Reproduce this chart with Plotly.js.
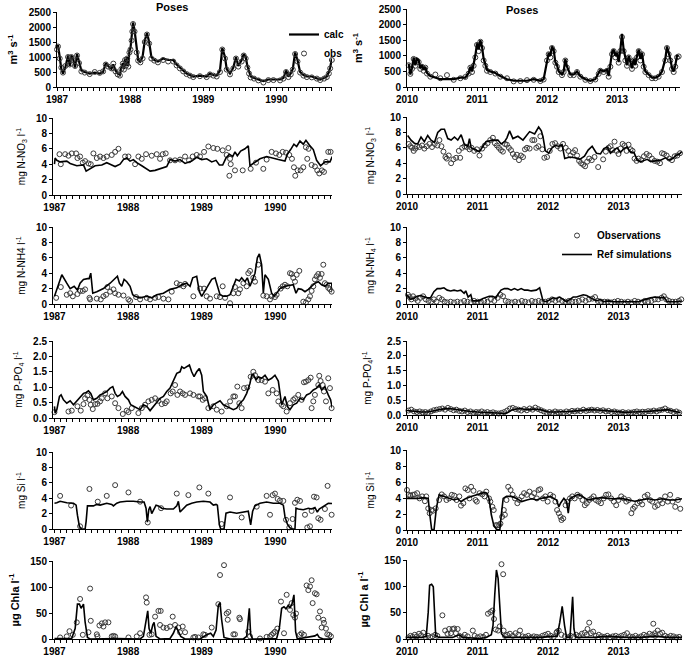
<!DOCTYPE html>
<html><head><meta charset="utf-8">
<script src="https://cdn.plot.ly/plotly-3.0.1.min.js"></script>
<style>html,body{margin:0;padding:0;background:#fff}#chart{width:685px;height:660px}</style>
</head><body><div id="chart"></div>
<script>
// ---------------- DATA (decimal years) ----------------
// Discharge at Poses, 1987-1990 (m3 s-1)
const flowX_L = [1987.00,1987.014,1987.037,1987.059,1987.082,1987.114,1987.151,1987.174,1987.196,1987.219,1987.247,1987.274,1987.301,1987.333,1987.379,1987.447,1987.516,1987.584,1987.630,1987.667,1987.699,
  1987.744,1987.77,1987.80,1987.83,1987.86,1987.88,1987.90,1987.915,1987.93,1987.945,1987.96,1987.975,1987.99,1988.005,1988.02,1988.03,1988.04,1988.06,1988.09,1988.11,1988.14,1988.17,1988.20,1988.23,1988.26,1988.29,1988.33,1988.38,1988.45,1988.52,
  1988.589,1988.635,1988.680,1988.726,1988.772,1988.817,1988.863,1988.954,1989.046,1989.091,1989.137,1989.183,1989.228,1989.260,1989.297,1989.320,1989.365,1989.411,1989.447,1989.479,1989.525,1989.553,1989.580,1989.603,1989.626,1989.648,1989.694,1989.753,1989.822,1989.890,1989.959,1990.050,1990.096,1990.132,1990.164,1990.196,1990.224,1990.256,1990.288,1990.324,1990.370,1990.416,1990.484,1990.553,1990.598,1990.653,1990.689,1990.717,1990.735,1990.758];
const flowCalc_L = [1300,1400,1000,600,450,650,1050,700,1050,950,650,1100,850,550,500,450,480,450,500,800,700,
  600,750,550,450,400,650,800,600,950,700,1000,700,1200,1300,1600,1900,2150,1900,1200,900,850,1000,1550,1800,1500,1000,900,850,950,900,
  900,750,650,550,450,400,350,380,350,450,400,380,550,1300,1000,600,450,650,1000,700,900,1100,1000,700,500,350,300,250,200,250,250,250,300,550,350,450,600,1150,900,500,400,350,350,300,250,300,350,500,650,950];
const flowObs_L = [1250,1350,950,650,480,700,1000,750,1000,900,700,1050,800,520,480,430,500,470,520,750,680,
  620,780,520,420,380,600,780,580,900,720,950,680,1150,1250,1550,1850,2100,1850,1150,880,820,950,1500,1750,1450,950,880,820,900,850,
  850,720,620,520,430,380,330,360,330,420,380,350,500,1250,950,580,420,620,950,680,850,1050,950,650,450,320,280,220,150,230,230,220,280,500,330,420,580,1100,850,480,380,330,320,280,230,280,330,450,620,900];
// Discharge at Poses, 2010-2013
const flowX_R = [2010.024,2010.048,2010.071,2010.095,2010.119,2010.143,2010.167,2010.190,2010.214,2010.238,2010.262,2010.286,2010.333,2010.405,2010.476,2010.571,2010.667,2010.762,2010.833,2010.881,2010.905,2010.929,2010.952,2010.976,2011.000,2011.024,2011.048,2011.071,2011.095,2011.119,2011.143,2011.190,2011.262,2011.333,2011.429,2011.524,2011.619,2011.714,2011.810,2011.905,2011.952,2012.000,2012.024,2012.048,2012.071,2012.095,2012.119,2012.143,2012.167,2012.214,2012.238,2012.262,2012.286,2012.333,2012.381,2012.429,2012.476,2012.548,2012.619,2012.690,2012.738,2012.762,2012.810,2012.857,2012.881,2012.905,2012.929,2012.952,2012.976,2013.000,2013.024,2013.048,2013.071,2013.095,2013.119,2013.143,2013.167,2013.190,2013.214,2013.238,2013.262,2013.286,2013.310,2013.333,2013.357,2013.381,2013.405,2013.452,2013.500,2013.548,2013.595,2013.643,2013.690,2013.714,2013.738,2013.762,2013.786,2013.810,2013.833,2013.857,2013.881];
const flowCalc_R = [750,400,600,950,700,900,850,600,700,550,650,450,350,300,250,250,250,300,300,450,650,500,700,1000,1400,1200,1500,1300,900,700,550,500,450,350,250,200,200,200,250,200,250,900,1100,1000,1300,1200,800,700,500,400,500,900,650,400,400,500,350,250,200,250,450,550,500,550,350,700,1100,1200,1000,1100,800,1200,1700,1200,900,700,1000,800,600,900,700,1000,1200,900,1100,700,500,400,300,300,350,500,900,1300,1100,900,600,500,700,1000,1000];
const flowObs_R = [700,420,580,900,680,850,800,580,650,520,620,430,330,400,280,380,230,280,320,430,620,480,680,950,1350,1150,1450,1250,850,680,520,480,430,330,280,180,190,220,230,190,240,850,1050,950,1250,1150,780,650,480,380,480,850,620,380,380,480,330,230,190,240,420,520,480,520,330,650,1050,1150,950,1050,780,1150,1600,1150,850,680,950,750,580,850,680,950,1150,850,1050,650,480,380,280,280,330,480,850,1250,1050,850,580,480,650,950,980];

// Nitrate (mg N-NO3 l-1): [year, value]
const no3Calc_L = [[1987.00,4.0],[1987.009,4.8],[1987.032,4.5],[1987.077,4.3],[1987.167,4.4],[1987.213,4.1],[1987.303,3.8],[1987.394,3.9],[1987.430,3.1],[1987.484,3.4],[1987.552,3.8],[1987.643,3.9],[1987.710,4.2],[1987.778,3.9],[1987.824,3.7],[1987.891,4.0],[1987.937,4.6],[1987.982,4.8],[1988.027,4.4],[1988.072,4.6],[1988.118,4.2],[1988.186,3.8],[1988.299,3.1],[1988.367,3.2],[1988.457,3.5],[1988.525,3.7],[1988.570,4.6],[1988.638,4.4],[1988.706,4.6],[1988.774,4.1],[1988.864,4.4],[1988.932,4.9],[1989.000,4.6],[1989.068,4.7],[1989.136,4.3],[1989.195,4.5],[1989.240,3.9],[1989.285,3.9],[1989.330,4.8],[1989.376,5.3],[1989.421,5.0],[1989.452,5.6],[1989.484,5.1],[1989.529,5.7],[1989.588,6.0],[1989.633,6.4],[1989.656,3.8],[1989.724,4.3],[1989.792,4.7],[1989.882,5.0],[1989.950,4.8],[1990.041,4.6],[1990.131,4.4],[1990.163,5.3],[1990.208,5.9],[1990.253,6.6],[1990.290,6.3],[1990.335,7.0],[1990.380,6.6],[1990.416,7.1],[1990.462,6.5],[1990.516,5.9],[1990.561,4.5],[1990.615,3.8],[1990.674,4.3],[1990.742,4.3],[1990.774,5.0]];
const no3Obs_L = [[1987.068,5.3],[1987.086,4.0],[1987.145,5.3],[1987.190,5.1],[1987.235,5.4],[1987.294,5.4],[1987.312,4.8],[1987.348,5.0],[1987.385,4.2],[1987.416,4.4],[1987.462,4.1],[1987.493,4.0],[1987.529,5.4],[1987.575,4.8],[1987.620,5.0],[1987.665,4.8],[1987.710,5.0],[1987.778,5.2],[1987.824,5.6],[1987.869,6.0],[1987.959,5.0],[1988.005,5.0],[1988.095,4.0],[1988.140,5.0],[1988.186,4.7],[1988.244,5.3],[1988.321,5.1],[1988.389,5.3],[1988.434,4.7],[1988.471,5.3],[1988.511,5.4],[1988.570,4.5],[1988.638,4.5],[1988.706,4.6],[1988.774,5.0],[1988.828,4.5],[1988.878,5.0],[1988.932,5.2],[1988.977,5.0],[1989.032,5.6],[1989.090,6.3],[1989.158,6.1],[1989.213,6.0],[1989.285,5.8],[1989.339,5.2],[1989.362,6.1],[1989.376,2.5],[1989.385,4.7],[1989.394,4.0],[1989.452,3.2],[1989.557,3.2],[1989.665,3.4],[1989.738,4.2],[1989.837,3.4],[1989.882,4.6],[1989.950,5.6],[1990.009,5.4],[1990.054,5.2],[1990.100,5.6],[1990.145,5.5],[1990.190,5.2],[1990.226,4.7],[1990.253,3.6],[1990.271,2.5],[1990.303,3.2],[1990.344,3.2],[1990.380,3.6],[1990.416,6.2],[1990.434,4.7],[1990.452,6.0],[1990.493,3.9],[1990.538,3.7],[1990.570,3.2],[1990.597,2.8],[1990.633,3.2],[1990.661,3.0],[1990.688,4.3],[1990.719,5.6],[1990.751,5.6]];
const no3Calc_R = [[2010.009,7.6],[2010.057,7.0],[2010.104,6.6],[2010.152,6.5],[2010.199,7.4],[2010.246,6.8],[2010.294,7.6],[2010.341,7.0],[2010.389,6.7],[2010.436,8.0],[2010.483,8.4],[2010.531,8.4],[2010.578,7.2],[2010.626,7.0],[2010.673,7.4],[2010.720,7.0],[2010.768,7.7],[2010.815,6.4],[2010.863,6.2],[2010.886,7.2],[2010.910,6.0],[2010.957,5.8],[2011.028,5.5],[2011.076,6.2],[2011.123,6.8],[2011.218,7.0],[2011.289,7.0],[2011.336,6.5],[2011.384,6.8],[2011.417,7.3],[2011.455,8.2],[2011.502,7.2],[2011.573,7.5],[2011.645,7.0],[2011.692,7.6],[2011.739,8.1],[2011.810,7.8],[2011.867,8.7],[2011.905,8.2],[2011.929,7.4],[2011.962,5.6],[2012.009,5.3],[2012.057,6.0],[2012.104,6.3],[2012.152,6.2],[2012.199,6.4],[2012.237,4.6],[2012.308,4.8],[2012.379,4.7],[2012.450,4.5],[2012.517,4.9],[2012.569,5.7],[2012.626,6.2],[2012.687,5.3],[2012.744,5.2],[2012.791,5.9],[2012.839,6.1],[2012.886,5.3],[2012.934,5.7],[2012.981,6.0],[2013.028,5.4],[2013.076,5.9],[2013.123,6.1],[2013.171,5.4],[2013.218,5.4],[2013.265,4.4],[2013.313,4.2],[2013.360,4.3],[2013.408,4.5],[2013.455,4.2],[2013.531,4.3],[2013.597,4.4],[2013.664,4.7],[2013.720,4.4],[2013.768,4.6],[2013.815,5.0],[2013.863,5.2],[2013.896,5.5]];
const no3Obs_R = [[2010.024,6.5],[2010.047,6.2],[2010.071,6.0],[2010.095,5.6],[2010.118,5.9],[2010.142,6.2],[2010.175,6.1],[2010.213,6.3],[2010.246,5.9],[2010.280,6.2],[2010.318,6.5],[2010.355,6.1],[2010.393,6.5],[2010.431,6.3],[2010.460,7.0],[2010.488,6.2],[2010.517,5.5],[2010.545,4.8],[2010.564,4.6],[2010.592,5.0],[2010.626,4.0],[2010.659,4.5],[2010.697,4.7],[2010.735,5.6],[2010.754,4.7],[2010.782,6.0],[2010.815,6.2],[2010.848,6.1],[2010.886,5.8],[2010.915,6.0],[2010.953,5.6],[2010.991,5.8],[2011.028,5.0],[2011.066,5.9],[2011.104,6.3],[2011.142,6.6],[2011.180,7.0],[2011.218,7.3],[2011.246,6.6],[2011.275,6.3],[2011.303,6.0],[2011.332,5.7],[2011.360,5.5],[2011.389,6.5],[2011.417,6.4],[2011.445,6.0],[2011.474,5.7],[2011.502,5.2],[2011.531,4.8],[2011.559,5.1],[2011.588,4.4],[2011.616,5.0],[2011.645,4.8],[2011.673,5.8],[2011.701,6.0],[2011.739,5.9],[2011.777,7.0],[2011.806,7.0],[2011.834,6.0],[2011.863,6.2],[2011.891,7.5],[2011.919,5.8],[2011.948,4.7],[2011.986,4.8],[2012.024,5.6],[2012.062,6.5],[2012.100,6.6],[2012.137,6.2],[2012.175,5.9],[2012.213,6.5],[2012.251,6.0],[2012.289,5.6],[2012.318,5.0],[2012.355,5.4],[2012.384,5.7],[2012.412,5.0],[2012.441,4.3],[2012.469,4.0],[2012.498,3.8],[2012.526,3.6],[2012.555,4.2],[2012.583,4.6],[2012.621,4.4],[2012.659,4.8],[2012.711,3.5],[2012.782,4.5],[2012.820,5.5],[2012.858,6.0],[2012.886,6.2],[2012.915,5.7],[2012.943,6.8],[2012.972,5.6],[2013.000,5.2],[2013.028,5.9],[2013.057,6.5],[2013.085,6.3],[2013.114,5.6],[2013.142,6.4],[2013.171,5.8],[2013.199,5.6],[2013.227,4.6],[2013.256,4.3],[2013.284,4.6],[2013.322,4.4],[2013.360,4.9],[2013.398,5.2],[2013.436,5.0],[2013.474,4.6],[2013.512,4.3],[2013.550,4.2],[2013.588,4.0],[2013.616,5.3],[2013.645,5.2],[2013.682,5.0],[2013.720,4.6],[2013.758,4.4],[2013.796,4.9],[2013.834,5.0],[2013.872,5.3]];

// Ammonium (mg N-NH4 l-1)
const nh4Calc_L = [[1987.000,1.0],[1987.100,3.8],[1987.167,2.7],[1987.213,2.0],[1987.267,2.3],[1987.312,1.8],[1987.348,2.7],[1987.394,3.2],[1987.448,3.3],[1987.471,3.3],[1987.493,4.0],[1987.520,1.4],[1987.575,1.6],[1987.665,2.0],[1987.756,2.7],[1987.824,3.4],[1987.855,3.6],[1987.882,2.7],[1987.914,2.3],[1987.946,3.2],[1987.982,2.9],[1988.027,2.3],[1988.063,1.2],[1988.095,1.0],[1988.163,0.8],[1988.253,1.0],[1988.321,0.8],[1988.389,1.2],[1988.480,1.4],[1988.570,1.9],[1988.661,2.1],[1988.729,2.5],[1988.796,2.7],[1988.842,2.3],[1988.878,3.4],[1988.932,3.6],[1988.968,1.6],[1989.000,1.0],[1989.068,2.1],[1989.136,3.2],[1989.181,3.4],[1989.213,2.3],[1989.249,1.2],[1989.294,1.0],[1989.339,1.0],[1989.385,1.2],[1989.430,2.3],[1989.466,3.2],[1989.511,3.0],[1989.543,3.4],[1989.588,2.9],[1989.620,3.4],[1989.656,2.3],[1989.679,2.9],[1989.724,4.0],[1989.756,6.0],[1989.783,6.5],[1989.814,5.1],[1989.837,1.4],[1989.860,3.8],[1989.905,3.2],[1989.950,1.4],[1989.982,1.0],[1990.018,1.4],[1990.063,2.0],[1990.131,2.3],[1990.199,2.4],[1990.244,2.5],[1990.281,1.4],[1990.312,2.0],[1990.357,1.9],[1990.403,1.6],[1990.448,1.9],[1990.493,2.3],[1990.538,2.7],[1990.584,2.9],[1990.629,2.5],[1990.674,2.3],[1990.719,2.7],[1990.765,2.7],[1990.778,1.4]];
const nh4Obs_L = [[1987.023,0.8],[1987.086,2.2],[1987.167,1.2],[1987.213,1.4],[1987.249,1.0],[1987.312,1.3],[1987.348,1.7],[1987.385,1.7],[1987.416,1.9],[1987.475,0.8],[1987.484,0.6],[1987.575,0.7],[1987.629,0.6],[1987.665,1.0],[1987.701,1.2],[1987.719,2.2],[1987.756,1.6],[1987.801,1.9],[1987.824,1.4],[1987.869,1.2],[1987.937,1.1],[1988.005,0.6],[1988.027,0.4],[1988.109,0.9],[1988.163,0.6],[1988.253,0.8],[1988.299,0.6],[1988.367,0.8],[1988.412,0.9],[1988.480,0.7],[1988.548,0.6],[1988.593,1.6],[1988.661,2.7],[1988.706,2.5],[1988.751,2.3],[1988.774,2.6],[1988.887,1.0],[1988.977,2.0],[1989.032,2.0],[1989.068,1.0],[1989.113,0.7],[1989.204,1.0],[1989.249,0.9],[1989.285,2.3],[1989.317,0.8],[1989.385,0.1],[1989.430,1.4],[1989.452,2.2],[1989.498,1.4],[1989.520,1.9],[1989.566,2.7],[1989.611,2.3],[1989.633,4.0],[1989.656,4.3],[1989.701,3.4],[1989.724,2.9],[1989.769,5.1],[1989.837,1.1],[1989.882,1.0],[1989.928,0.6],[1989.950,1.0],[1989.995,0.9],[1990.018,1.2],[1990.072,2.0],[1990.100,2.3],[1990.131,2.5],[1990.163,2.3],[1990.199,4.0],[1990.222,3.9],[1990.244,3.4],[1990.267,2.9],[1990.290,3.8],[1990.326,4.3],[1990.380,0.3],[1990.416,0.2],[1990.448,0.6],[1990.471,1.0],[1990.493,1.7],[1990.516,2.3],[1990.538,3.2],[1990.561,3.6],[1990.584,3.9],[1990.606,3.4],[1990.629,3.9],[1990.652,5.1],[1990.674,2.7],[1990.697,2.5],[1990.719,2.1],[1990.742,1.9],[1990.765,1.6]];
const nh4Calc_R = [[2010.000,1.2],[2010.048,0.6],[2010.095,0.7],[2010.143,1.0],[2010.190,1.1],[2010.238,0.9],[2010.286,0.8],[2010.333,0.8],[2010.381,1.6],[2010.429,2.0],[2010.476,2.0],[2010.524,2.1],[2010.571,1.8],[2010.619,1.7],[2010.667,1.8],[2010.714,1.7],[2010.762,1.8],[2010.810,1.4],[2010.833,1.7],[2010.867,0.9],[2010.905,1.2],[2010.929,0.4],[2010.976,0.4],[2011.024,0.4],[2011.071,0.7],[2011.119,0.9],[2011.167,1.0],[2011.214,1.0],[2011.262,0.8],[2011.286,1.2],[2011.333,1.8],[2011.381,2.0],[2011.429,2.0],[2011.476,1.8],[2011.524,2.0],[2011.571,1.8],[2011.619,2.0],[2011.667,1.8],[2011.714,1.8],[2011.762,1.7],[2011.833,1.8],[2011.881,2.1],[2011.905,1.0],[2011.929,0.4],[2011.976,0.3],[2012.024,0.6],[2012.071,0.8],[2012.119,0.7],[2012.167,0.9],[2012.214,0.6],[2012.262,0.3],[2012.310,0.6],[2012.357,0.9],[2012.405,0.9],[2012.452,1.1],[2012.500,1.2],[2012.548,1.1],[2012.595,0.8],[2012.643,0.6],[2012.690,0.4],[2012.738,0.6],[2012.786,0.3],[2012.857,0.4],[2012.929,0.3],[2013.000,0.3],[2013.095,0.3],[2013.190,0.3],[2013.286,0.3],[2013.381,0.6],[2013.452,0.8],[2013.524,0.9],[2013.595,0.8],[2013.640,0.9],[2013.690,0.3],[2013.762,0.3],[2013.833,0.3],[2013.895,0.4]];
const nh4Obs_R = [[2010.014,1.2],[2010.038,0.9],[2010.062,0.6],[2010.086,1.0],[2010.119,0.7],[2010.152,0.4],[2010.190,0.8],[2010.229,1.0],[2010.267,0.6],[2010.305,0.4],[2010.343,0.3],[2010.381,0.6],[2010.419,0.3],[2010.457,0.8],[2010.495,0.6],[2010.533,0.3],[2010.571,0.2],[2010.619,0.3],[2010.667,0.2],[2010.714,0.3],[2010.762,0.2],[2010.810,0.4],[2010.857,0.3],[2010.905,0.2],[2010.952,0.4],[2011.000,0.3],[2011.048,0.3],[2011.095,0.4],[2011.143,0.3],[2011.190,0.6],[2011.238,0.4],[2011.286,0.8],[2011.324,1.2],[2011.362,1.0],[2011.400,0.4],[2011.438,0.3],[2011.486,0.2],[2011.533,0.3],[2011.581,0.2],[2011.629,0.4],[2011.676,0.3],[2011.724,0.2],[2011.771,0.4],[2011.819,0.3],[2011.867,0.4],[2011.914,0.3],[2011.962,0.3],[2012.010,0.4],[2012.057,0.6],[2012.105,0.4],[2012.152,0.6],[2012.200,0.4],[2012.248,0.3],[2012.295,0.4],[2012.343,0.3],[2012.390,0.3],[2012.438,0.4],[2012.486,0.6],[2012.533,0.4],[2012.581,0.6],[2012.629,0.7],[2012.667,0.9],[2012.705,0.4],[2012.752,0.3],[2012.800,0.3],[2012.848,0.3],[2012.895,0.2],[2012.943,0.3],[2012.990,0.4],[2013.038,0.3],[2013.086,0.2],[2013.133,0.3],[2013.181,0.2],[2013.229,0.4],[2013.276,0.3],[2013.324,0.2],[2013.371,0.4],[2013.419,0.3],[2013.467,0.4],[2013.514,0.6],[2013.562,0.6],[2013.610,0.8],[2013.643,1.0],[2013.676,0.6],[2013.714,0.4],[2013.762,0.3],[2013.810,0.3],[2013.857,0.4],[2013.890,0.6]];

// Phosphate (mg P-PO4 l-1)
const po4Calc_L = [[1987.000,0.38],[1987.009,0.16],[1987.032,0.27],[1987.068,0.70],[1987.090,0.75],[1987.122,0.59],[1987.167,0.48],[1987.213,0.56],[1987.258,0.43],[1987.303,0.56],[1987.348,0.70],[1987.394,0.80],[1987.430,0.83],[1987.462,0.88],[1987.493,0.80],[1987.529,0.59],[1987.575,0.64],[1987.620,0.75],[1987.665,0.80],[1987.710,0.86],[1987.756,0.97],[1987.792,1.02],[1987.824,0.80],[1987.855,0.70],[1987.891,0.75],[1987.923,0.86],[1987.959,0.70],[1988.005,0.59],[1988.036,0.43],[1988.072,0.38],[1988.118,0.32],[1988.163,0.27],[1988.208,0.43],[1988.253,0.38],[1988.299,0.24],[1988.344,0.38],[1988.389,0.48],[1988.434,0.64],[1988.480,0.70],[1988.525,0.86],[1988.570,0.97],[1988.615,1.23],[1988.661,1.45],[1988.706,1.50],[1988.729,1.66],[1988.760,1.61],[1988.796,1.66],[1988.833,1.72],[1988.864,1.50],[1988.896,1.34],[1988.932,1.50],[1988.968,1.61],[1989.000,1.39],[1989.023,0.86],[1989.068,0.70],[1989.113,0.27],[1989.158,0.43],[1989.204,0.51],[1989.249,0.56],[1989.294,0.43],[1989.339,0.38],[1989.385,0.32],[1989.430,0.27],[1989.475,0.32],[1989.520,0.48],[1989.566,0.59],[1989.611,0.80],[1989.656,1.13],[1989.679,1.39],[1989.701,1.42],[1989.738,1.23],[1989.769,1.34],[1989.814,1.29],[1989.860,1.39],[1989.905,1.23],[1989.950,1.29],[1989.995,1.39],[1990.041,1.20],[1990.063,0.86],[1990.086,0.43],[1990.131,0.70],[1990.163,0.38],[1990.199,0.27],[1990.244,0.43],[1990.290,0.48],[1990.335,0.64],[1990.380,0.59],[1990.425,0.75],[1990.471,0.80],[1990.516,0.91],[1990.561,0.97],[1990.597,1.07],[1990.629,0.91],[1990.674,1.02],[1990.719,0.75],[1990.751,0.59],[1990.774,0.32]];
const po4Obs_L = [[1987.000,0.19],[1987.190,0.21],[1987.235,0.24],[1987.312,0.38],[1987.357,0.24],[1987.394,0.45],[1987.416,0.64],[1987.448,0.73],[1987.475,0.59],[1987.493,0.43],[1987.520,0.29],[1987.552,0.45],[1987.584,0.46],[1987.620,0.54],[1987.643,0.64],[1987.688,0.80],[1987.719,0.64],[1987.778,0.70],[1987.824,0.48],[1987.869,0.32],[1987.928,0.13],[1987.982,0.24],[1988.005,0.19],[1988.050,0.32],[1988.140,0.16],[1988.186,0.32],[1988.231,0.43],[1988.276,0.54],[1988.321,0.59],[1988.367,0.64],[1988.412,0.56],[1988.457,0.45],[1988.502,0.48],[1988.525,0.54],[1988.579,0.80],[1988.606,0.86],[1988.638,1.07],[1988.670,0.75],[1988.706,0.86],[1988.742,0.80],[1988.774,0.75],[1988.842,0.80],[1988.887,0.75],[1988.955,0.70],[1988.977,0.70],[1989.014,0.59],[1989.045,0.64],[1989.090,0.32],[1989.158,0.38],[1989.204,0.27],[1989.271,0.21],[1989.339,0.38],[1989.385,0.54],[1989.430,0.70],[1989.452,0.70],[1989.484,1.02],[1989.511,0.48],[1989.543,0.32],[1989.575,0.97],[1989.620,0.99],[1989.665,1.34],[1989.701,1.50],[1989.724,1.39],[1989.769,1.23],[1989.814,1.23],[1989.860,1.18],[1989.905,0.80],[1989.964,0.91],[1990.018,0.80],[1990.041,0.54],[1990.086,0.43],[1990.109,0.38],[1990.154,0.21],[1990.199,0.48],[1990.244,0.59],[1990.267,0.64],[1990.312,0.75],[1990.357,0.59],[1990.389,1.16],[1990.416,1.18],[1990.448,1.23],[1990.480,1.31],[1990.493,0.32],[1990.516,0.54],[1990.538,0.75],[1990.584,1.07],[1990.597,1.37],[1990.615,1.20],[1990.643,1.07],[1990.661,0.86],[1990.688,0.54],[1990.719,1.29],[1990.742,0.97],[1990.765,0.32]];
const po4Calc_R = [[2010.0,0.15],[2010.1,0.12],[2010.2,0.10],[2010.3,0.10],[2010.4,0.15],[2010.5,0.20],[2010.6,0.22],[2010.7,0.18],[2010.8,0.15],[2010.9,0.12],[2011.0,0.10],[2011.1,0.09],[2011.2,0.08],[2011.3,0.06],[2011.4,0.05],[2011.5,0.18],[2011.6,0.22],[2011.7,0.18],[2011.8,0.20],[2011.9,0.18],[2012.0,0.10],[2012.1,0.10],[2012.2,0.10],[2012.3,0.12],[2012.4,0.14],[2012.5,0.16],[2012.6,0.18],[2012.7,0.17],[2012.8,0.15],[2012.9,0.12],[2013.0,0.10],[2013.1,0.09],[2013.2,0.10],[2013.3,0.10],[2013.4,0.12],[2013.5,0.14],[2013.6,0.16],[2013.7,0.18],[2013.8,0.12],[2013.88,0.08]];
const po4Obs_R = [[2010.02,0.15],[2010.06,0.18],[2010.10,0.12],[2010.14,0.10],[2010.18,0.12],[2010.22,0.09],[2010.26,0.10],[2010.30,0.08],[2010.34,0.12],[2010.38,0.16],[2010.42,0.18],[2010.46,0.20],[2010.50,0.22],[2010.54,0.18],[2010.58,0.24],[2010.62,0.20],[2010.66,0.16],[2010.70,0.18],[2010.74,0.14],[2010.78,0.12],[2010.82,0.15],[2010.86,0.10],[2010.90,0.12],[2010.94,0.08],[2010.98,0.10],[2011.02,0.09],[2011.06,0.12],[2011.10,0.08],[2011.14,0.10],[2011.18,0.07],[2011.22,0.09],[2011.26,0.06],[2011.30,0.05],[2011.34,0.07],[2011.38,0.10],[2011.42,0.15],[2011.46,0.22],[2011.50,0.24],[2011.54,0.20],[2011.58,0.18],[2011.62,0.15],[2011.66,0.20],[2011.70,0.16],[2011.74,0.22],[2011.78,0.18],[2011.82,0.25],[2011.86,0.20],[2011.90,0.16],[2011.94,0.12],[2011.98,0.08],[2012.02,0.10],[2012.06,0.08],[2012.10,0.12],[2012.14,0.09],[2012.18,0.10],[2012.22,0.08],[2012.26,0.12],[2012.30,0.10],[2012.34,0.14],[2012.38,0.12],[2012.42,0.15],[2012.46,0.13],[2012.50,0.18],[2012.54,0.14],[2012.58,0.16],[2012.62,0.18],[2012.66,0.15],[2012.70,0.17],[2012.74,0.14],[2012.78,0.16],[2012.82,0.12],[2012.86,0.14],[2012.90,0.10],[2012.94,0.12],[2012.98,0.09],[2013.02,0.08],[2013.06,0.10],[2013.10,0.07],[2013.14,0.09],[2013.18,0.08],[2013.22,0.10],[2013.26,0.12],[2013.30,0.09],[2013.34,0.11],[2013.38,0.10],[2013.42,0.13],[2013.46,0.12],[2013.50,0.15],[2013.54,0.12],[2013.58,0.16],[2013.62,0.18],[2013.66,0.22],[2013.70,0.16],[2013.74,0.14],[2013.78,0.10],[2013.82,0.12],[2013.86,0.08]];

// Silica (mg Si l-1)
const siCalc_L = [[1987.000,3.35],[1987.032,3.4],[1987.077,3.6],[1987.167,3.4],[1987.258,3.35],[1987.294,3.1],[1987.312,1.8],[1987.339,0.3],[1987.371,0],[1987.416,0],[1987.430,1.0],[1987.448,3.0],[1987.529,3.0],[1987.575,3.2],[1987.620,3.1],[1987.710,3.35],[1987.778,3.2],[1987.801,3.0],[1987.846,3.35],[1987.891,3.5],[1987.982,3.6],[1988.072,3.6],[1988.163,3.5],[1988.217,3.5],[1988.244,2.7],[1988.262,0.9],[1988.281,2.5],[1988.299,2.9],[1988.321,2.0],[1988.353,2.5],[1988.380,3.1],[1988.412,3.0],[1988.457,2.7],[1988.525,2.6],[1988.615,2.6],[1988.661,3.0],[1988.683,3.6],[1988.706,2.2],[1988.751,2.7],[1988.796,3.1],[1988.864,3.35],[1988.932,3.5],[1989.023,3.6],[1989.113,3.5],[1989.158,3.1],[1989.195,3.2],[1989.213,3.1],[1989.240,0.55],[1989.258,0],[1989.303,0],[1989.330,2.05],[1989.385,2.2],[1989.475,2.05],[1989.566,2.2],[1989.633,2.3],[1989.665,0.55],[1989.692,2.3],[1989.724,3.0],[1989.792,3.35],[1989.882,3.5],[1989.973,3.35],[1990.063,3.35],[1990.109,3.1],[1990.131,1.6],[1990.163,0.65],[1990.199,0.15],[1990.235,0],[1990.267,0],[1990.281,2.7],[1990.312,2.6],[1990.380,2.5],[1990.448,2.7],[1990.493,2.6],[1990.538,2.8],[1990.570,2.2],[1990.597,2.6],[1990.652,2.9],[1990.719,3.35],[1990.774,3.3]];
const siObs_L = [[1987.077,4.3],[1987.226,3.05],[1987.348,0.35],[1987.475,5.2],[1987.588,3.55],[1987.710,4.3],[1987.824,5.7],[1988.005,4.75],[1988.163,3.55],[1988.267,0.85],[1988.448,2.7],[1988.661,4.6],[1988.819,4.4],[1988.968,5.4],[1989.090,4.6],[1989.271,0.65],[1989.385,4.1],[1989.543,1.5],[1989.747,2.9],[1989.882,4.3],[1989.928,1.85],[1989.964,4.4],[1989.995,4.6],[1990.032,3.9],[1990.063,3.7],[1990.109,3.65],[1990.145,1.2],[1990.190,0.2],[1990.235,1.3],[1990.267,3.4],[1990.299,3.8],[1990.335,3.65],[1990.403,1.85],[1990.434,0.2],[1990.471,0.35],[1990.493,2.35],[1990.525,4.2],[1990.561,4.1],[1990.584,1.4],[1990.615,1.2],[1990.674,2.6],[1990.710,5.6],[1990.765,1.85]];
const siCalc_R = [[2010.000,3.95],[2010.072,3.95],[2010.167,3.95],[2010.239,4.05],[2010.301,3.95],[2010.321,2.1],[2010.349,0.1],[2010.383,0],[2010.416,2.7],[2010.455,4.4],[2010.526,4.2],[2010.598,3.95],[2010.670,3.75],[2010.718,3.9],[2010.766,3.55],[2010.799,3.75],[2010.837,3.95],[2010.909,4.2],[2010.981,4.4],[2011.053,4.6],[2011.100,4.7],[2011.134,4.6],[2011.163,3.95],[2011.196,1.9],[2011.230,0.6],[2011.268,0.1],[2011.316,0],[2011.340,2.1],[2011.364,3.95],[2011.411,4.2],[2011.483,4.2],[2011.555,3.95],[2011.627,3.55],[2011.699,3.75],[2011.770,3.9],[2011.842,3.75],[2011.890,3.95],[2011.962,4.05],[2012.033,4.2],[2012.081,3.95],[2012.120,3.75],[2012.153,2.9],[2012.177,3.35],[2012.225,3.95],[2012.263,3.55],[2012.287,2.1],[2012.311,3.9],[2012.368,4.2],[2012.426,4.45],[2012.488,4.2],[2012.560,3.75],[2012.656,3.9],[2012.751,4.05],[2012.847,3.95],[2012.943,3.9],[2013.038,3.95],[2013.134,3.75],[2013.230,3.6],[2013.325,3.75],[2013.420,3.9],[2013.517,3.75],[2013.612,3.9],[2013.708,3.75],[2013.804,3.75],[2013.900,3.9]];
const siObs_R = [[2010.000,5.0],[2010.024,4.4],[2010.048,4.3],[2010.081,4.4],[2010.110,4.45],[2010.144,4.6],[2010.177,3.95],[2010.215,4.2],[2010.254,3.6],[2010.273,4.2],[2010.301,2.7],[2010.321,2.1],[2010.349,2.5],[2010.368,2.4],[2010.407,2.7],[2010.455,3.75],[2010.493,4.45],[2010.526,4.2],[2010.560,3.75],[2010.598,3.95],[2010.636,4.4],[2010.670,4.3],[2010.703,3.75],[2010.742,4.2],[2010.766,3.05],[2010.799,3.35],[2010.828,5.2],[2010.861,5.0],[2010.885,3.95],[2010.909,5.4],[2010.943,4.9],[2010.971,3.75],[2010.990,3.55],[2011.029,4.6],[2011.067,4.45],[2011.100,4.2],[2011.124,4.8],[2011.163,3.95],[2011.182,3.55],[2011.211,2.9],[2011.230,2.5],[2011.258,0.6],[2011.278,0.6],[2011.306,0.6],[2011.325,0.8],[2011.349,1.65],[2011.373,2.5],[2011.388,1.9],[2011.411,3.75],[2011.435,5.4],[2011.469,5.0],[2011.498,4.4],[2011.531,3.95],[2011.565,3.35],[2011.593,3.75],[2011.627,4.2],[2011.660,4.6],[2011.699,4.4],[2011.737,4.8],[2011.770,4.2],[2011.804,4.6],[2011.842,3.95],[2011.866,5.0],[2011.890,5.1],[2011.928,3.95],[2011.962,4.2],[2011.995,3.55],[2012.033,4.4],[2012.072,4.2],[2012.105,3.55],[2012.129,2.5],[2012.153,2.1],[2012.177,1.65],[2012.191,1.25],[2012.215,1.45],[2012.249,3.1],[2012.273,3.55],[2012.311,3.95],[2012.344,4.2],[2012.378,3.95],[2012.416,4.4],[2012.455,4.2],[2012.488,3.75],[2012.522,3.1],[2012.550,3.35],[2012.584,3.75],[2012.617,3.95],[2012.646,4.2],[2012.679,3.75],[2012.713,3.55],[2012.751,3.35],[2012.789,3.95],[2012.823,4.4],[2012.856,4.45],[2012.895,3.95],[2012.933,3.55],[2012.967,3.1],[2013.000,3.75],[2013.038,4.2],[2013.077,3.95],[2013.110,3.55],[2013.144,3.75],[2013.182,2.1],[2013.206,2.65],[2013.230,2.9],[2013.268,3.35],[2013.301,3.55],[2013.335,3.2],[2013.373,4.2],[2013.411,4.4],[2013.445,3.75],[2013.478,3.55],[2013.517,2.9],[2013.555,3.1],[2013.589,3.75],[2013.622,3.35],[2013.660,4.2],[2013.699,3.55],[2013.732,4.4],[2013.766,3.55],[2013.804,2.9],[2013.842,3.75],[2013.876,2.65]];

// Chlorophyll a (µg l-1)
const chlCalc_L = [[1987.000,1],[1987.167,1],[1987.235,1.3],[1987.281,20],[1987.312,67],[1987.339,67],[1987.362,59],[1987.394,67],[1987.416,33],[1987.448,3],[1987.484,0],[1987.846,1],[1987.982,0],[1988.163,0],[1988.208,5],[1988.244,40],[1988.267,54],[1988.285,20],[1988.308,11],[1988.335,27],[1988.353,32],[1988.380,5],[1988.434,0],[1988.570,1],[1988.615,11],[1988.652,24],[1988.683,14],[1988.715,5],[1988.774,0],[1988.977,0],[1989.068,8],[1989.122,11],[1989.158,5],[1989.195,17],[1989.226,65],[1989.249,70],[1989.271,37],[1989.303,3],[1989.385,0],[1989.566,0],[1989.611,5],[1989.647,59],[1989.665,8],[1989.692,0],[1990.018,1],[1990.054,20],[1990.086,59],[1990.118,62],[1990.145,58],[1990.176,65],[1990.199,60],[1990.226,67],[1990.253,85],[1990.276,14],[1990.299,0],[1990.538,6],[1990.570,9],[1990.597,3],[1990.652,0],[1990.774,0]];
const chlObs_L = [[1987.077,3],[1987.167,5],[1987.204,15],[1987.249,8],[1987.303,32],[1987.348,77],[1987.385,8],[1987.462,13],[1987.484,97],[1987.493,35],[1987.575,9],[1987.584,5],[1987.611,26],[1987.643,30],[1987.665,24],[1987.688,32],[1987.733,32],[1987.778,5],[1987.801,6],[1987.824,5],[1988.005,3],[1988.118,5],[1988.163,11],[1988.244,80],[1988.253,70],[1988.290,8],[1988.321,9],[1988.367,43],[1988.412,54],[1988.434,27],[1988.443,54],[1988.480,22],[1988.525,21],[1988.570,24],[1988.606,43],[1988.638,27],[1988.683,22],[1988.706,13],[1988.742,24],[1988.774,13],[1988.887,3],[1988.910,4],[1988.955,3],[1989.023,9],[1989.045,8],[1989.136,22],[1989.226,67],[1989.249,123],[1989.303,142],[1989.339,49],[1989.353,37],[1989.362,52],[1989.430,9],[1989.452,9],[1989.511,41],[1989.520,38],[1989.633,14],[1989.656,5],[1989.792,1],[1989.882,4],[1989.928,5],[1989.950,8],[1989.973,11],[1989.995,14],[1990.027,20],[1990.077,72],[1990.118,11],[1990.154,85],[1990.199,56],[1990.222,69],[1990.244,46],[1990.267,41],[1990.281,49],[1990.335,8],[1990.357,11],[1990.389,8],[1990.425,103],[1990.448,94],[1990.471,101],[1990.493,113],[1990.507,69],[1990.538,88],[1990.561,86],[1990.584,41],[1990.606,53],[1990.629,22],[1990.652,37],[1990.661,31],[1990.688,20],[1990.706,9],[1990.733,8],[1990.756,5]];
const chlCalc_R = [[2010.000,3],[2010.215,3],[2010.273,5],[2010.301,51],[2010.321,102],[2010.349,104],[2010.373,99],[2010.407,6],[2010.455,3],[2010.646,3],[2010.742,8],[2010.789,3],[2011.029,1],[2011.124,3],[2011.196,8],[2011.220,26],[2011.244,83],[2011.268,131],[2011.292,115],[2011.316,64],[2011.340,10],[2011.388,3],[2011.890,3],[2012.081,5],[2012.129,5],[2012.167,32],[2012.201,62],[2012.234,26],[2012.263,3],[2012.311,3],[2012.330,38],[2012.349,80],[2012.368,19],[2012.392,3],[2012.656,3],[2012.847,5],[2013.086,3],[2013.325,3],[2013.517,5],[2013.708,3],[2013.900,3]];
const chlObs_R = [[2010.02,3],[2010.05,6],[2010.08,4],[2010.11,8],[2010.14,5],[2010.17,10],[2010.20,7],[2010.23,12],[2010.26,4],[2010.30,6],[2010.33,3],[2010.36,5],[2010.40,8],[2010.43,6],[2010.502,45],[2010.541,16],[2010.574,10],[2010.598,19],[2010.622,11],[2010.646,19],[2010.670,20],[2010.694,11],[2010.718,19],[2010.742,6],[2010.78,4],[2010.82,8],[2010.86,5],[2010.933,16],[2010.96,6],[2011.00,3],[2011.04,5],[2011.08,4],[2011.12,8],[2011.148,48],[2011.182,51],[2011.211,54],[2011.234,38],[2011.258,18],[2011.292,16],[2011.316,24],[2011.340,142],[2011.364,123],[2011.370,16],[2011.388,6],[2011.42,8],[2011.46,10],[2011.50,6],[2011.54,11],[2011.58,8],[2011.603,16],[2011.64,5],[2011.68,4],[2011.72,6],[2011.76,3],[2011.80,5],[2011.84,4],[2011.88,3],[2011.92,6],[2011.96,8],[2012.00,10],[2012.04,6],[2012.08,4],[2012.12,12],[2012.129,14],[2012.153,16],[2012.19,8],[2012.24,5],[2012.28,3],[2012.32,6],[2012.36,4],[2012.40,8],[2012.44,6],[2012.48,10],[2012.52,12],[2012.55,8],[2012.560,19],[2012.584,31],[2012.608,11],[2012.64,14],[2012.68,6],[2012.72,8],[2012.76,5],[2012.80,4],[2012.84,6],[2012.88,3],[2012.92,5],[2012.96,6],[2013.00,4],[2013.04,6],[2013.08,8],[2013.12,11],[2013.16,5],[2013.20,4],[2013.24,6],[2013.28,3],[2013.32,5],[2013.36,8],[2013.40,6],[2013.44,10],[2013.48,8],[2013.493,29],[2013.517,11],[2013.52,6],[2013.555,16],[2013.589,10],[2013.62,12],[2013.66,6],[2013.70,4],[2013.74,6],[2013.78,5],[2013.82,3],[2013.86,4]];

// ---------------- LAYOUT / STYLE ----------------
const FONT = 'Liberation Sans, Arial, Helvetica, sans-serif';
const W = 685, H = 660;
const px = v => v / W, py = v => 1 - v / H;
const X = p => p.map(d => d[0]), Y = p => p.map(d => d[1]);

const colX = [[53, 332], [407, 682]];
const colRange = [[1986.98, 1990.77], [2010, 2013.9]];
const colStandoff = [8, 13];
const rowsPx = [
  [[12, 87], [118, 195], [227, 304], [341, 418], [452, 529], [561, 639]],
  [[9, 87], [117, 194], [227, 304], [341, 415], [450, 530], [560, 639]]
];

const U = 'l<sup>-1</sup>';
const panels = [
  // left column
  {c:0,r:0, calc:[flowX_L,flowCalc_L], obs:[flowX_L,flowObs_L], yr:[0,2500], dt:500, fmt:'d', t:'m<sup>3</sup> s<sup>-1</sup>', tb:true, lw:2.2, xd:[57,332], xr:[1987,1990.76]},
  {c:0,r:1, calc:[X(no3Calc_L),Y(no3Calc_L)], obs:[X(no3Obs_L),Y(no3Obs_L)], yr:[0,10], dt:2, fmt:'d', t:'mg N-NO<sub>3</sub> '+U},
  {c:0,r:2, calc:[X(nh4Calc_L),Y(nh4Calc_L)], obs:[X(nh4Obs_L),Y(nh4Obs_L)], yr:[0,10], dt:2, fmt:'d', t:'mg N-NH4 '+U},
  {c:0,r:3, calc:[X(po4Calc_L),Y(po4Calc_L)], obs:[X(po4Obs_L),Y(po4Obs_L)], yr:[0,2.5], dt:0.5, fmt:'.1f', t:'mg P-PO<sub>4</sub> '+U},
  {c:0,r:4, calc:[X(siCalc_L),Y(siCalc_L)], obs:[X(siObs_L),Y(siObs_L)], yr:[0,10], dt:2, fmt:'d', t:'mg Si '+U},
  {c:0,r:5, calc:[X(chlCalc_L),Y(chlCalc_L)], obs:[X(chlObs_L),Y(chlObs_L)], yr:[0,150], dt:50, fmt:'d', t:'µg Chla '+U, tb:true},
  // right column
  {c:1,r:0, calc:[flowX_R,flowCalc_R], obs:[flowX_R,flowObs_R], yr:[0,2500], dt:500, fmt:'d', t:'m<sup>3</sup> s<sup>-1</sup>', tb:true, lw:2.2, xd:[407,680]},
  {c:1,r:1, calc:[X(no3Calc_R),Y(no3Calc_R)], obs:[X(no3Obs_R),Y(no3Obs_R)], yr:[0,10], dt:2, fmt:'d', t:'mg N-NO<sub>3</sub> '+U},
  {c:1,r:2, calc:[X(nh4Calc_R),Y(nh4Calc_R)], obs:[X(nh4Obs_R),Y(nh4Obs_R)], yr:[0,10], dt:2, fmt:'d', t:'mg N-NH<sub>4</sub> '+U, leg:true},
  {c:1,r:3, calc:[X(po4Calc_R),Y(po4Calc_R)], obs:[X(po4Obs_R),Y(po4Obs_R)], yr:[0,2.5], dt:0.5, fmt:'.1f', t:'mg P-PO<sub>4</sub>'+U},
  {c:1,r:4, calc:[X(siCalc_R),Y(siCalc_R)], obs:[X(siObs_R),Y(siObs_R)], yr:[0,10], dt:2, fmt:'d', t:'mg Si '+U},
  {c:1,r:5, calc:[X(chlCalc_R),Y(chlCalc_R)], obs:[X(chlObs_R),Y(chlObs_R)], yr:[0,150], dt:50, fmt:'d', t:'µg Chl a '+U, tb:true}
];

const traces = [];
const layout = {
  width: W, height: H, margin: {l:0, r:0, t:0, b:0},
  paper_bgcolor: '#fff', plot_bgcolor: 'rgba(0,0,0,0)',
  font: {family: FONT, color: '#000'},
  showlegend: true,
  legend: {x: px(349), xanchor: 'right', y: py(20), yanchor: 'top', bgcolor: 'rgba(0,0,0,0)',
           font: {family: FONT, size: 10, weight: 'bold', color: '#000'}, itemwidth: 30, tracegroupgap: 0},
  legend2: {x: px(557), xanchor: 'left', y: py(221), yanchor: 'top', bgcolor: 'rgba(0,0,0,0)',
           font: {family: FONT, size: 10, weight: 'bold', color: '#000'}, itemwidth: 30, tracegroupgap: 0},
  annotations: [
    {text: 'Poses', xref: 'paper', yref: 'paper', x: px(172), y: py(7), xanchor: 'center', yanchor: 'middle', showarrow: false,
     font: {family: FONT, size: 11, weight: 'bold', color: '#000'}},
    {text: 'Poses', xref: 'paper', yref: 'paper', x: px(522), y: py(10), xanchor: 'center', yanchor: 'middle', showarrow: false,
     font: {family: FONT, size: 11, weight: 'bold', color: '#000'}}
  ]
};

panels.forEach((p, i) => {
  const n = i + 1;
  const xk = n === 1 ? 'x' : 'x' + n, yk = n === 1 ? 'y' : 'y' + n;
  const xd = p.xd || colX[p.c], xr = p.xr || colRange[p.c];
  const [top, bot] = rowsPx[p.c][p.r];
  const calcTrace = {
    type: 'scatter', mode: 'lines', x: p.calc[0], y: p.calc[1], xaxis: xk, yaxis: yk,
    line: {color: '#000', width: p.lw || 1.6}, hoverinfo: 'skip', showlegend: false
  };
  const obsTrace = {
    type: 'scatter', mode: 'markers', x: p.obs[0], y: p.obs[1], xaxis: xk, yaxis: yk,
    marker: {symbol: 'circle-open', size: 5, color: '#3a3a3a', line: {width: 1, color: '#3a3a3a'}},
    hoverinfo: 'skip', showlegend: false, cliponaxis: false
  };
  if (i === 0) {
    calcTrace.name = 'calc'; calcTrace.showlegend = true; calcTrace.legend = 'legend';
    obsTrace.name = 'obs'; obsTrace.showlegend = true; obsTrace.legend = 'legend';
    traces.push(calcTrace, obsTrace);
  } else if (p.leg) {
    obsTrace.name = 'Observations'; obsTrace.showlegend = true; obsTrace.legend = 'legend2';
    calcTrace.name = 'Ref simulations'; calcTrace.showlegend = true; calcTrace.legend = 'legend2';
    traces.push(obsTrace, calcTrace);
  } else {
    traces.push(obsTrace, calcTrace);
  }
  layout['xaxis' + (n === 1 ? '' : n)] = {
    domain: [px(xd[0]), px(xd[1])], range: xr, anchor: yk,
    tickmode: 'linear', tick0: Math.ceil(xr[0]), dtick: 1, tickformat: 'd',
    ticks: 'outside', ticklen: 3, tickwidth: 1, tickcolor: '#000',
    minor: {tickmode: 'linear', tick0: Math.ceil(xr[0]), dtick: 1/12, ticks: 'outside', ticklen: 3, tickwidth: 1, tickcolor: '#000', showgrid: false},
    showline: true, linecolor: '#000', linewidth: 1, showgrid: false, zeroline: false, fixedrange: true,
    tickfont: {family: FONT, size: 10, weight: 'bold', color: '#000'}
  };
  layout['yaxis' + (n === 1 ? '' : n)] = {
    domain: [py(bot), py(top)], range: p.yr, anchor: xk,
    tickmode: 'linear', tick0: 0, dtick: p.dt, tickformat: p.fmt,
    ticks: 'outside', ticklen: 3, tickwidth: 1, tickcolor: '#000',
    showline: true, linecolor: '#000', linewidth: 1, showgrid: false, zeroline: false, fixedrange: true,
    tickfont: {family: FONT, size: 10, weight: 'bold', color: '#000'},
    title: {text: p.t, standoff: colStandoff[p.c], font: {family: FONT, size: p.tb ? 11 : 10, weight: p.tb ? 'bold' : 'normal', color: '#000'}}
  };
});

Plotly.newPlot('chart', traces, layout, {displayModeBar: false, staticPlot: true});
</script>
</body></html>
